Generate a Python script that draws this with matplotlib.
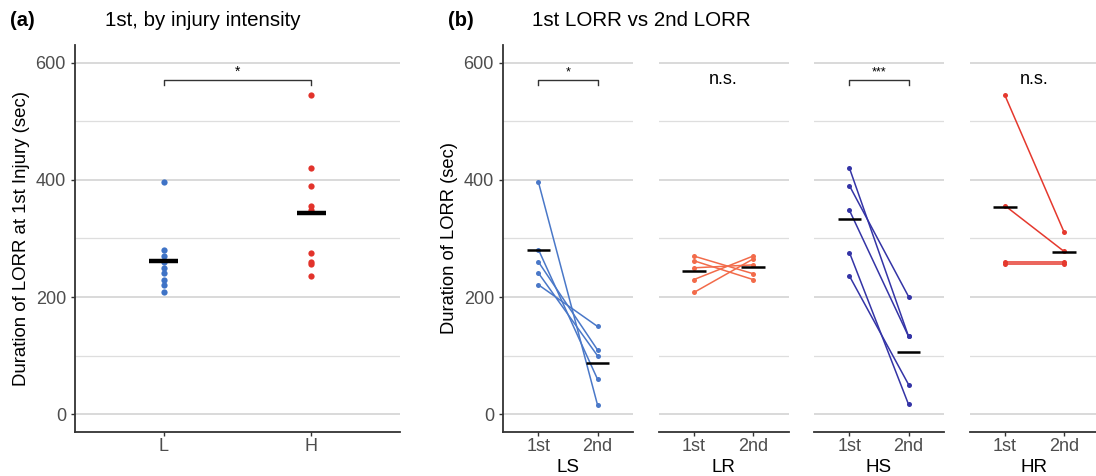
import matplotlib.pyplot as plt
import numpy as np

# panel (a): 1st LORR by injury intensity
L_vals = [396, 281, 260, 241, 221, 270, 262, 250, 230, 208]
H_vals = [545, 420, 390, 356, 348, 276, 260, 256, 236]
groups_a = ["L", "H"]
colors_a = ["#3F73C6", "#E2332B"]

# panel (b): 1st vs 2nd, paired
facets = ["LS", "LR", "HS", "HR"]
first = {
    "LS": [396, 281, 260, 241, 221],
    "LR": [270, 262, 250, 230, 208],
    "HS": [420, 390, 348, 276, 236],
    "HR": [544, 356, 260, 256],
}
second = {
    "LS": [16, 60, 110, 100, 150],
    "LR": [240, 230, 255, 270, 265],
    "HS": [133, 201, 133, 17, 51],
    "HR": [311, 278, 260, 256],
}
colors_b = {"LS": "#4A78C8", "LR": "#F26B4A", "HS": "#3434A6", "HR": "#E5392E"}
signif = {"LS": "*", "LR": "n.s.", "HS": "***", "HR": "n.s."}
xlabels_b = ["1st", "2nd"]

W, H = 1096, 476
fig = plt.figure(figsize=(W / 100, H / 100), dpi=100)
plt.rcParams['font.family'] = ['Liberation Sans', 'DejaVu Sans']

tick_col = "#4D4D4D"
ylim = (-30, 630)
xlim = (0.4, 2.6)


def px_axes(x0, x1, y0=45, y1=432):
    return fig.add_axes([x0 / W, 1 - y1 / H, (x1 - x0) / W, (y1 - y0) / H])


def style(ax, yaxis=True):
    ax.set_xlim(*xlim)
    ax.set_ylim(*ylim)
    for v in range(0, 601, 100):
        ax.axhline(v, color="#D0D0D0" if v % 200 == 0 else "#DEDEDE",
                   lw=1.1 if v % 200 == 0 else 0.9, zorder=0)
    for s in ["top", "right"]:
        ax.spines[s].set_visible(False)
    ax.spines["bottom"].set_color("#333333")
    ax.spines["bottom"].set_linewidth(1.3)
    ax.set_yticks([0, 200, 400, 600])
    if yaxis:
        ax.spines["left"].set_color("#333333")
        ax.spines["left"].set_linewidth(1.3)
        ax.tick_params(axis="y", colors="#333333", labelcolor=tick_col,
                       labelsize=13, length=3, width=1)
    else:
        ax.spines["left"].set_visible(False)
        ax.tick_params(axis="y", left=False, labelleft=False)
    ax.tick_params(axis="x", colors="#333333", labelcolor=tick_col,
                   labelsize=13, length=3, width=1, pad=1)
    ax.set_facecolor("none")


def bracket(ax, y, text, fs=10):
    ax.plot([1, 1, 2, 2], [y - 10, y, y, y - 10], color="#333333", lw=1)
    ax.text(1.5, y + 2, text, ha="center", va="bottom", fontsize=fs)


# ---- panel (a)
ax = px_axes(75, 400)
style(ax)
for i, (vals, c) in enumerate(zip([L_vals, H_vals], colors_a)):
    x = i + 1
    ax.plot([x] * len(vals), vals, "o", color=c, ms=4.5, mec="none", zorder=3)
    m = np.mean(vals)
    ax.plot([x - 0.1, x + 0.1], [m, m], color="black", lw=3.2,
            solid_capstyle="butt", zorder=4)
ax.set_xticks([1, 2])
ax.set_xticklabels(groups_a)
bracket(ax, 571, "*", fs=10)
ax.set_ylabel("Duration of LORR at 1st Injury (sec)", fontsize=13.4, labelpad=4)

fig.text(10 / W, 1 - 20 / H, "(a)", fontsize=14.5, fontweight="bold", va="center")
fig.text(105 / W, 1 - 20 / H, "1st, by injury intensity", fontsize=14.8, va="center")

# ---- panel (b)
starts = [503, 658.5, 814, 969.5]
for k, f in enumerate(facets):
    ax = px_axes(starts[k], starts[k] + 130)
    style(ax, yaxis=(k == 0))
    c = colors_b[f]
    for a, b in zip(first[f], second[f]):
        ax.plot([1, 2], [a, b], color=c, lw=1.1, zorder=2)
    ax.plot([1] * len(first[f]), first[f], "o", color=c, ms=3.6, mec="none", zorder=3)
    ax.plot([2] * len(second[f]), second[f], "o", color=c, ms=3.6, mec="none", zorder=3)
    for x, vals in [(1, first[f]), (2, second[f])]:
        m = np.mean(vals)
        ax.plot([x - 0.2, x + 0.2], [m, m], color="black", lw=1.8,
                solid_capstyle="butt", zorder=4)
    ax.set_xticks([1, 2])
    ax.set_xticklabels(xlabels_b)
    if signif[f] == "n.s.":
        ax.text(1.5, 571, "n.s.", ha="center", va="center", fontsize=13)
    else:
        bracket(ax, 571, signif[f], fs=9)
    fig.text((starts[k] + 65) / W, 1 - 467 / H, f, ha="center", va="center",
             fontsize=13.5)
    if k == 0:
        ax.set_ylabel("Duration of LORR (sec)", fontsize=13.2, labelpad=4)

fig.text(448 / W, 1 - 20 / H, "(b)", fontsize=14.5, fontweight="bold", va="center")
fig.text(532 / W, 1 - 20 / H, "1st LORR vs 2nd LORR", fontsize=14.8, va="center")

fig.savefig("out.png", dpi=100)
